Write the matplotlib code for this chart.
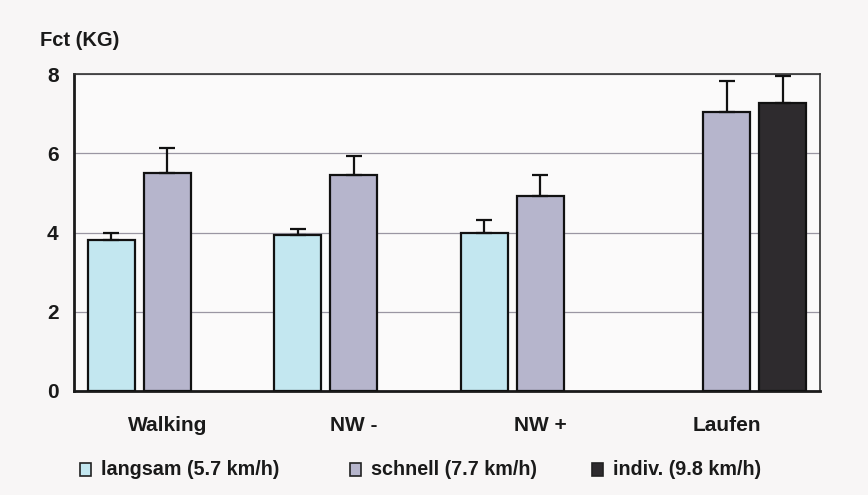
import numpy as np
import matplotlib
matplotlib.use("Agg")
import matplotlib.pyplot as plt
from matplotlib.patches import Rectangle

plt.rcParams["font.family"] = ["Liberation Sans", "DejaVu Sans"]

kategorien = ["Walking", "NW -", "NW +", "Laufen"]
serien = ["langsam (5.7 km/h)", "schnell (7.7 km/h)", "indiv. (9.8 km/h)"]

# Mittelwerte und Standardabweichung (nur nach oben) je Serie
langsam = [3.82, 3.93, 3.99, np.nan]
langsam_sd = [0.18, 0.17, 0.32, np.nan]
schnell = [5.49, 5.44, 4.92, 7.03]
schnell_sd = [0.63, 0.48, 0.52, 0.79]
indiv = [np.nan, np.nan, np.nan, 7.27]
indiv_sd = [np.nan, np.nan, np.nan, 0.67]

farben = ["#c3e7f0", "#b6b5cc", "#2e2b2e"]

W, H = 868, 495
fig = plt.figure(figsize=(W / 100, H / 100), dpi=100, facecolor="#f8f6f6")
ax = fig.add_axes([74 / W, 1 - 391 / H, 746 / W, 317 / H])
ax.set_facecolor("#fbfafa")

x = np.arange(len(kategorien))
breite = 0.252
versatz = 0.30
werte = [(langsam, langsam_sd), (schnell, schnell_sd), (indiv, indiv_sd)]
for i, (w, sd) in enumerate(werte):
    pos = x + (i - 1) * versatz
    w = np.array(w, dtype=float)
    sd = np.array(sd, dtype=float)
    ax.bar(pos, w, width=breite, color=farben[i], edgecolor="#111111",
           linewidth=1.6, zorder=3)
    ax.errorbar(pos, w, yerr=[np.zeros_like(sd), sd], fmt="none",
                ecolor="#111111", elinewidth=1.6, capsize=5.5, capthick=1.6,
                zorder=4)

ax.set_xlim(-0.5, 3.5)
ax.set_ylim(0, 8)
ax.set_yticks([0, 2, 4, 6, 8])
ax.set_xticks(x)
ax.set_xticklabels(kategorien)
ax.tick_params(axis="both", length=0, labelsize=15)
ax.tick_params(axis="x", pad=18)
ax.tick_params(axis="y", pad=11)
for lab in ax.get_xticklabels() + ax.get_yticklabels():
    lab.set_fontweight("bold")
    lab.set_color("#1a1a1a")

ax.yaxis.grid(True, color="#9a96a2", linewidth=0.9, zorder=0)
ax.set_axisbelow(True)
for s in ["left", "bottom"]:
    ax.spines[s].set_linewidth(2.0)
    ax.spines[s].set_color("#1a1a1a")
for s in ["top", "right"]:
    ax.spines[s].set_linewidth(1.2)
    ax.spines[s].set_color("#333333")

fig.text(40 / W, 1 - 40 / H, "Fct (KG)", fontsize=14.5, fontweight="bold",
         color="#1a1a1a", va="center", ha="left")

# Legende von Hand, da die Abstände ungleich sind
legend_x = [80, 350, 592]
for i, px in enumerate(legend_x):
    fig.add_artist(Rectangle((px / W, 1 - 476 / H), 11 / W, 13 / H,
                             transform=fig.transFigure, facecolor=farben[i],
                             edgecolor="#222222", linewidth=1.2))
    fig.text((px + 21) / W, 1 - 469.5 / H, serien[i], fontsize=14.2,
             fontweight="bold", color="#1a1a1a", va="center", ha="left")

fig.savefig("out.png", dpi=100, facecolor=fig.get_facecolor())
